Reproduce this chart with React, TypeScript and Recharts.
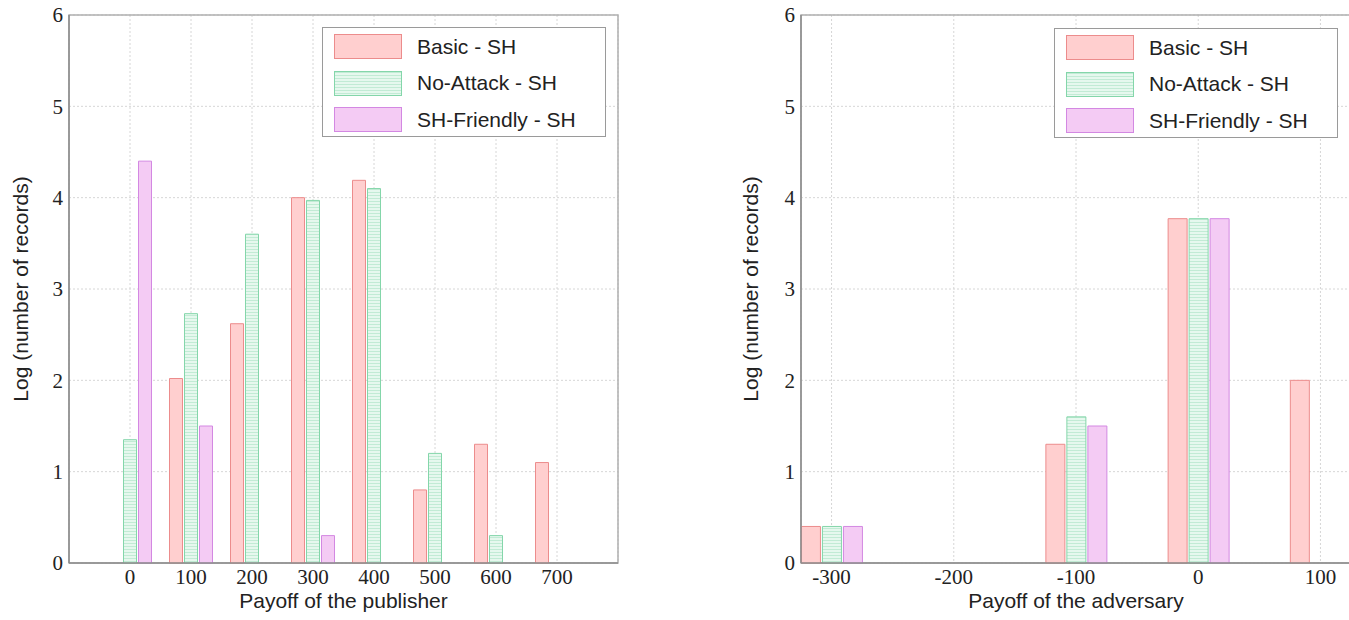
import { Bar, BarChart, CartesianGrid, ReferenceArea, XAxis, YAxis } from 'recharts';

// publisher payoff histogram (log10 of record counts)
const PUB_PAYOFF = [0, 100, 200, 300, 400, 500, 600, 700];
const PUB_BASIC = [null, 2.02, 2.62, 4.0, 4.19, 0.8, 1.3, 1.1];
const PUB_NO_ATTACK = [1.35, 2.73, 3.6, 3.97, 4.1, 1.2, 0.3, null];
const PUB_FRIENDLY = [4.4, 1.5, null, 0.3, null, null, null, null];
const PUB_TICKS = [0, 100, 200, 300, 400, 500, 600, 700];

// adversary payoff histogram
const ADV_PAYOFF = [-300, -100, 0, 100];
const ADV_BASIC = [0.4, 1.3, 3.77, 2.0];
const ADV_NO_ATTACK = [0.4, 1.6, 3.77, null];
const ADV_FRIENDLY = [0.4, 1.5, 3.77, null];
const ADV_TICKS = [-300, -200, -100, 0, 100];

const Y_TICKS = [0, 1, 2, 3, 4, 5, 6];

const SANS = '"Liberation Sans", Arial, sans-serif';
const SERIF = '"Liberation Serif", "Times New Roman", serif';

const SERIES = [
  { key: 'basic', label: 'Basic - SH', fill: '#ffcfcf', stroke: '#ec8c8c', swatch: '#ffcfcf' },
  {
    key: 'noAttack',
    label: 'No-Attack - SH',
    fill: 'url(#stripes)',
    stroke: '#84d6aa',
    swatch: 'repeating-linear-gradient(to bottom, #c2ebd5 0px, #c2ebd5 1px, #e6f8ee 1px, #e6f8ee 3px)',
  },
  { key: 'friendly', label: 'SH-Friendly - SH', fill: '#f4cbf4', stroke: '#d388e2', swatch: '#f4cbf4' },
];

const pubData = PUB_PAYOFF.map((x, i) => ({
  x,
  basic: PUB_BASIC[i],
  noAttack: PUB_NO_ATTACK[i],
  friendly: PUB_FRIENDLY[i],
}));

const advData = ADV_PAYOFF.map((x, i) => ({
  x,
  basic: ADV_BASIC[i],
  noAttack: ADV_NO_ATTACK[i],
  friendly: ADV_FRIENDLY[i],
}));

function LegendBox({ left, top }: { left: number; top: number }) {
  return (
    <div
      style={{
        position: 'absolute',
        left,
        top,
        width: 284,
        height: 110,
        boxSizing: 'border-box',
        border: '1px solid #9a9a9a',
        background: '#fff',
        fontFamily: SANS,
        fontSize: 21,
        color: '#222',
      }}
    >
      {SERIES.map((s, i) => (
        <div key={s.key} style={{ position: 'absolute', left: 11, top: 6 + i * 36.5, height: 25, display: 'flex', alignItems: 'center' }}>
          <span
            style={{
              display: 'inline-block',
              width: 68,
              height: 25,
              boxSizing: 'border-box',
              border: `1px solid ${s.stroke}`,
              background: s.swatch,
            }}
          />
          <span style={{ marginLeft: 15, whiteSpace: 'nowrap' }}>{s.label}</span>
        </div>
      ))}
    </div>
  );
}

const yLabel = (props: any) => {
  const { x, y, height } = props.viewBox;
  const cx = x + 20;
  const cy = y + height / 2;
  return (
    <text
      x={cx}
      y={cy}
      transform={`rotate(-90 ${cx} ${cy})`}
      textAnchor="middle"
      dominantBaseline="central"
      fontFamily={SANS}
      fontSize={21}
      fill="#222"
    >
      Log (number of records)
    </text>
  );
};

type ChartProps = {
  data: typeof pubData;
  domain: [number, number];
  ticks: number[];
  barSize: number;
  width: number;
  yAxisWidth: number;
  marginRight: number;
  xLabel: string;
};

function PayoffChart({ data, domain, ticks, barSize, width, yAxisWidth, marginRight, xLabel }: ChartProps) {
  return (
    <BarChart
      width={width}
      height={620}
      data={data}
      barSize={barSize}
      barGap={2}
      margin={{ top: 15, right: marginRight, bottom: 0, left: 0 }}
    >
      <defs>
        <pattern id="stripes" width="4" height="3" patternUnits="userSpaceOnUse">
          <rect width="4" height="3" fill="#e6f8ee" />
          <rect width="4" height="1" fill="#c2ebd5" />
        </pattern>
      </defs>
      <CartesianGrid stroke="#d6d6d6" strokeDasharray="2 2" />
      <XAxis
        type="number"
        dataKey="x"
        domain={domain}
        ticks={ticks}
        height={57}
        tickSize={4}
        tickMargin={2}
        tickLine={false}
        axisLine={{ stroke: '#8c8c8c', strokeWidth: 1.5 }}
        tick={{ fontFamily: SERIF, fontSize: 21, fill: '#222' }}
        label={{ value: xLabel, position: 'insideBottom', offset: 12, style: { fontFamily: SANS, fontSize: 21, fill: '#222' } }}
      />
      <YAxis
        type="number"
        domain={[0, 6]}
        ticks={Y_TICKS}
        width={yAxisWidth}
        tickSize={4}
        tickMargin={2}
        tickLine={false}
        axisLine={{ stroke: '#8c8c8c', strokeWidth: 1.5 }}
        tick={{ fontFamily: SERIF, fontSize: 21, fill: '#222' }}
        label={yLabel}
      />
      <ReferenceArea x1={domain[0]} x2={domain[1]} y1={0} y2={6} fill="none" stroke="#b0b0b0" strokeWidth={1.5} ifOverflow="visible" />
      {SERIES.map((s) => (
        <Bar key={s.key} dataKey={s.key} name={s.label} fill={s.fill} stroke={s.stroke} strokeWidth={1} isAnimationActive={false} />
      ))}
    </BarChart>
  );
}

export default function App() {
  return (
    <div style={{ position: 'fixed', left: 0, top: 0, width: 1349, height: 620, overflow: 'hidden', background: '#fff' }}>
      <div style={{ position: 'absolute', left: 0, top: 0 }}>
        <PayoffChart
          data={pubData}
          domain={[-100, 800]}
          ticks={PUB_TICKS}
          barSize={13}
          width={640}
          yAxisWidth={69}
          marginRight={22}
          xLabel="Payoff of the publisher"
        />
        <LegendBox left={322} top={27} />
      </div>
      <div style={{ position: 'absolute', left: 730, top: 0 }}>
        <PayoffChart
          data={advData}
          domain={[-325, 125]}
          ticks={ADV_TICKS}
          barSize={19}
          width={621}
          yAxisWidth={71}
          marginRight={0}
          xLabel="Payoff of the adversary"
        />
        <LegendBox left={324} top={28} />
      </div>
    </div>
  );
}
